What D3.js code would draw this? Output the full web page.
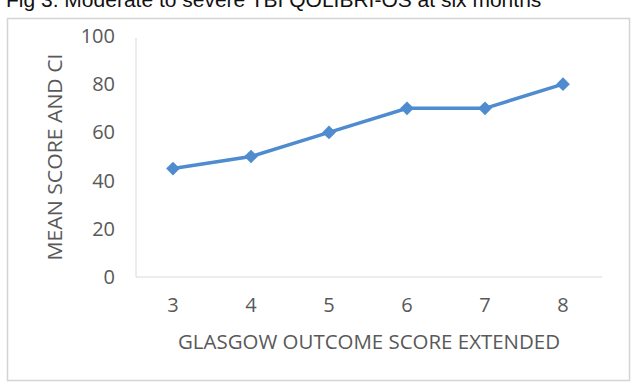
<!DOCTYPE html>
<html>
<head>
<meta charset="utf-8">
<script src="https://cdn.jsdelivr.net/npm/d3@7"></script>
<style>
  body { margin: 0; background: #fff; }
  svg { display: block; }
</style>
</head>
<body>
<svg id="chart"></svg>
<script>
// data
const categories = ['3', '4', '5', '6', '7', '8'];
const meanScores = [45, 50, 60, 70, 70, 80];
const yTicks = [0, 20, 40, 60, 80, 100];

const width = 634;
const height = 383;

const svg = d3.select('#chart')
  .attr('width', width)
  .attr('height', height);

// caption, cropped at top of the picture
svg.append('text')
  .attr('x', 6)
  .attr('y', 7)
  .style('font-family', 'Liberation Sans, Arial, sans-serif')
  .style('font-size', '21px')
  .style('fill', '#111')
  .text('Fig 3. Moderate to severe TBI QOLIBRI-OS at six months');

// chart frame
svg.append('rect')
  .attr('x', 7.5)
  .attr('y', 18.5)
  .attr('width', 622)
  .attr('height', 362)
  .style('fill', 'none')
  .style('stroke', '#d4d4d4')
  .style('stroke-width', 1.5);

// scales
const xScale = d3.scaleBand()
  .domain(categories)
  .range([134, 602]);
const yScale = d3.scaleLinear()
  .domain([0, 100])
  .range([277, 36]);

const labelFont = 'Open Sans, Liberation Sans, sans-serif';
const labelSize = '20px';

// y axis
const yAxis = d3.axisLeft(yScale).tickValues(yTicks).tickSize(0).tickPadding(21);
const gy = svg.append('g')
  .attr('transform', 'translate(136,0)')
  .call(yAxis);
gy.select('.domain').style('stroke', '#d9d9d9').attr('d', 'M0,38V277');
gy.selectAll('text')
  .style('font-family', labelFont)
  .style('font-size', labelSize)
  .style('fill', '#595959');

// x axis
const xAxis = d3.axisBottom(xScale).tickSize(0).tickPadding(21);
const gx = svg.append('g')
  .attr('transform', 'translate(0,277)')
  .call(xAxis);
gx.select('.domain').style('stroke', '#d9d9d9').attr('d', 'M136,0H602');
gx.selectAll('text')
  .style('font-family', labelFont)
  .style('font-size', labelSize)
  .style('fill', '#595959');

// axis titles
svg.append('text')
  .attr('x', 369)
  .attr('y', 349)
  .attr('text-anchor', 'middle')
  .attr('textLength', 382)
  .attr('lengthAdjust', 'spacingAndGlyphs')
  .style('font-family', labelFont)
  .style('font-size', labelSize)
  .style('fill', '#595959')
  .text('GLASGOW OUTCOME SCORE EXTENDED');

svg.append('text')
  .attr('transform', 'translate(62,157) rotate(-90)')
  .attr('text-anchor', 'middle')
  .attr('textLength', 207)
  .attr('lengthAdjust', 'spacingAndGlyphs')
  .style('font-family', labelFont)
  .style('font-size', labelSize)
  .style('fill', '#595959')
  .text('MEAN SCORE AND CI');

// line
const line = d3.line()
  .x((d, i) => xScale(categories[i]) + xScale.bandwidth() / 2)
  .y(d => yScale(d));

svg.append('path')
  .datum(meanScores)
  .attr('d', line)
  .style('fill', 'none')
  .style('stroke', '#4f8bcf')
  .style('stroke-width', 3.5);

// diamond markers
svg.selectAll('.marker')
  .data(meanScores)
  .enter()
  .append('path')
    .attr('class', 'marker')
    .attr('d', d3.symbol().type(d3.symbolDiamond2).size(120))
    .attr('transform', (d, i) => 'translate(' + (xScale(categories[i]) + xScale.bandwidth() / 2) + ',' + yScale(d) + ')')
    .style('fill', '#4f8bcf');
</script>
</body>
</html>
